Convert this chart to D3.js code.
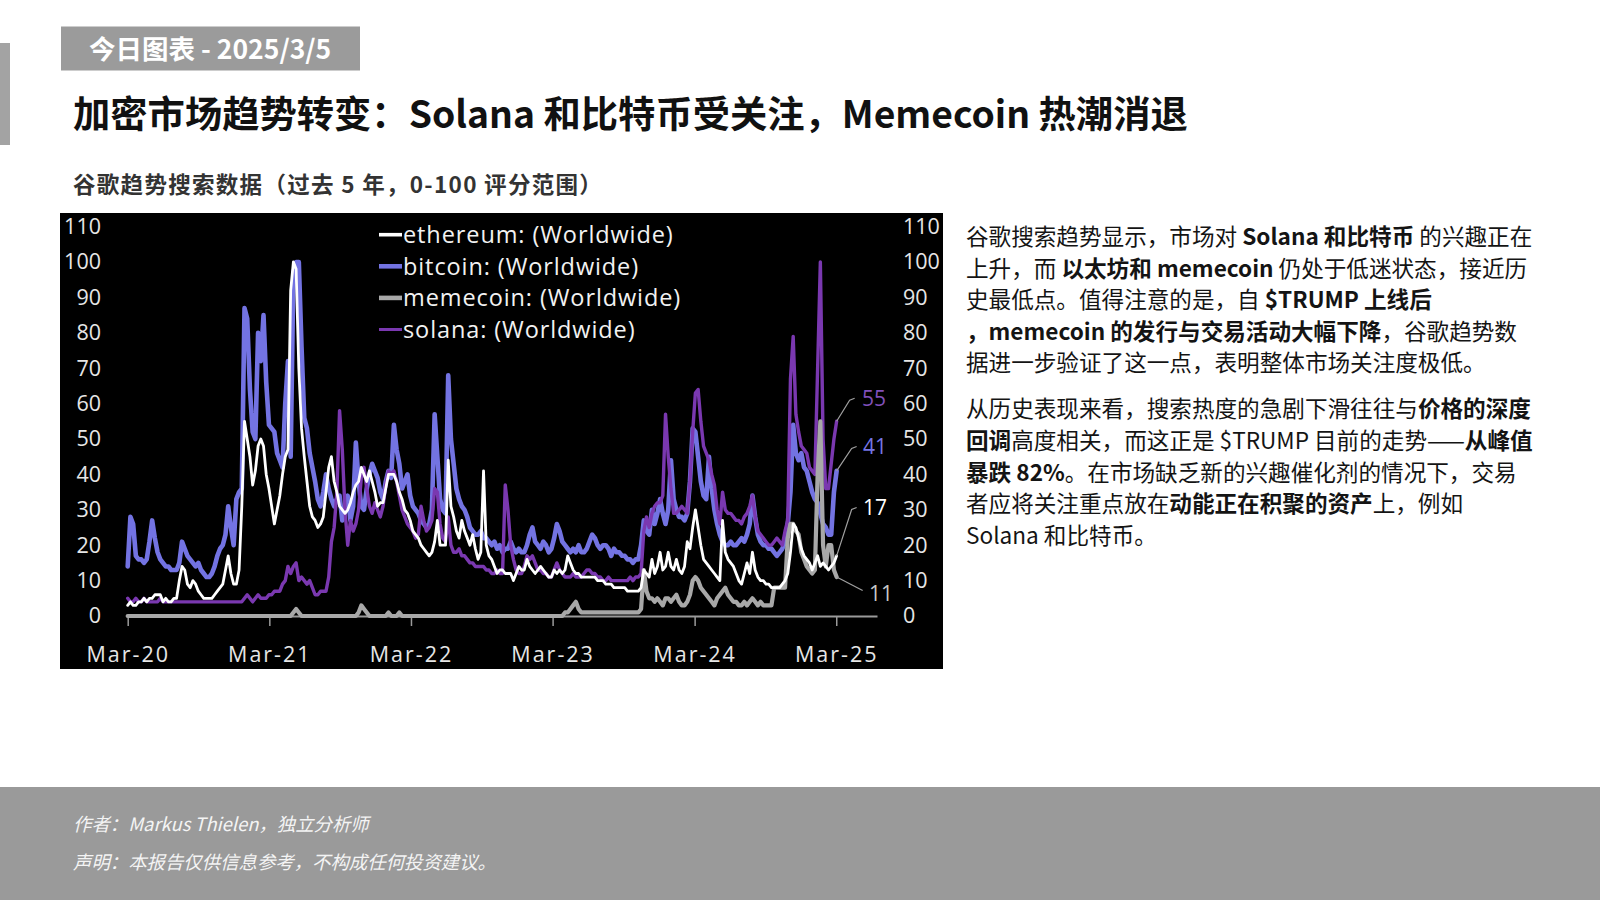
<!DOCTYPE html>
<html>
<head>
<meta charset="utf-8">
<script src="https://cdn.jsdelivr.net/npm/d3@7"></script>
<style>
  html, body { margin: 0; padding: 0; background: #ffffff; }
  svg { display: block; }
</style>
</head>
<body>
<svg id="page" width="1600" height="900"></svg>
<script>
// ---------------- DATA ----------------
const startDate = "2020-03-01";           // first weekly observation
const seriesNames = ["ethereum", "bitcoin", "memecoin", "solana"];
const legendLabels = ["ethereum: (Worldwide)", "bitcoin: (Worldwide)", "memecoin: (Worldwide)", "solana: (Worldwide)"];
const xTickDates = ["2020-03-01", "2021-03-01", "2022-03-01", "2023-03-01", "2024-03-01", "2025-03-01"];
const xTickLabels = ["Mar-20", "Mar-21", "Mar-22", "Mar-23", "Mar-24", "Mar-25"];
const yTicks = [0, 10, 20, 30, 40, 50, 60, 70, 80, 90, 100, 110];

const bitcoin = [
  14, 28, 26, 17, 16, 16, 15, 16, 21, 27,
  22, 18, 16, 15, 14, 14, 13, 13, 13, 15,
  21, 19, 17, 16, 15, 14, 15, 13, 12, 11,
  11, 12, 14, 17, 19, 20, 23, 31, 25, 20,
  33, 35, 36, 87, 84, 64, 52, 50, 80, 72,
  85, 66, 54, 53, 52, 46, 44, 42, 60, 72,
  45, 97, 100, 100, 76, 56, 53, 46, 42, 38,
  33, 31, 35, 40, 36, 33, 31, 33, 34, 27,
  30, 34, 27, 31, 49, 38, 31, 30, 36, 40,
  43, 41, 39, 35, 33, 38, 41, 39, 54, 47,
  43, 36, 38, 40, 34, 31, 30, 29, 27, 26,
  25, 26, 30, 57, 45, 33, 30, 29, 68, 50,
  43, 36, 33, 31, 30, 28, 25, 24, 23, 23,
  24, 22, 22, 21, 20, 21, 19, 20, 18, 19,
  19, 21, 19, 18, 19, 18, 18, 20, 23, 25,
  21, 20, 19, 21, 20, 18, 19, 22, 26, 24,
  21, 20, 19, 18, 19, 18, 20, 18, 18, 19,
  21, 23, 22, 20, 19, 20, 20, 19, 17, 19,
  18, 18, 17, 17, 16, 16, 15, 16, 16, 20,
  27, 24, 23, 30, 26, 29, 33, 29, 26, 30,
  44, 33, 30, 28, 28, 27, 29, 38, 53, 52,
  45, 38, 34, 33, 45, 36, 30, 26, 23, 21,
  20, 20, 21, 20, 20, 21, 22, 21, 23, 26,
  34, 28, 23, 21, 20, 20, 19, 19, 18, 17,
  18, 19, 21, 26, 35, 54, 46, 44, 46, 42,
  41, 38, 35, 33, 32, 29, 26, 25, 23, 23,
  35, 41
];

const ethereum = [
  3, 4, 3, 3, 4, 4, 5, 4, 5, 5,
  6, 6, 6, 4, 5, 4, 4, 5, 5, 10,
  14, 13, 9, 8, 10, 9, 7, 6, 5, 5,
  5, 5, 6, 7, 8, 9, 13, 17, 12, 9,
  9, 13, 31, 55, 50, 45, 37, 41, 48, 50,
  48, 40, 36, 31, 26, 30, 34, 40, 45, 47,
  92, 100, 98, 70, 53, 45, 38, 31, 28, 27,
  25, 26, 28, 35, 42, 45, 38, 35, 31, 30,
  29, 30, 32, 35, 37, 38, 42, 40, 38, 41,
  38, 35, 31, 32, 32, 36, 40, 40, 40, 38,
  35, 33, 30, 29, 27, 24, 23, 22, 20, 19,
  18, 17, 18, 21, 27, 20, 20, 20, 44, 31,
  28, 24, 22, 27, 24, 22, 20, 23, 19, 16,
  18, 41, 20, 17, 16, 14, 12, 13, 13, 12,
  12, 12, 10, 12, 14, 13, 13, 16, 14, 13,
  12, 13, 14, 13, 12, 11, 11, 13, 12, 13,
  12, 13, 17, 15, 13, 12, 12, 11, 11, 11,
  11, 11, 11, 10, 10, 10, 9, 9, 9, 8,
  8, 8, 8, 8, 7, 7, 7, 7, 7, 8,
  13, 12, 11, 16, 12, 14, 18, 13, 14, 18,
  14, 13, 16, 13, 12, 14, 21, 19, 25, 30,
  25, 20, 16, 15, 14, 13, 12, 11, 10, 27,
  18, 16, 15, 14, 12, 10, 9, 12, 15, 12,
  18, 13, 11, 10, 10, 9, 9, 8, 8, 8,
  8, 9, 10, 12, 18, 26, 25, 22, 19, 17,
  16, 15, 13, 15, 17, 14, 15, 14, 13, 14,
  15, 17
];

const solana = [
  5, 4, 4, 5, 4, 4, 5, 4, 4, 4,
  4, 4, 5, 4, 4, 4, 4, 4, 4, 4,
  4, 4, 4, 4, 4, 4, 4, 4, 4, 4,
  4, 4, 4, 4, 4, 4, 4, 4, 4, 4,
  4, 4, 4, 5, 6, 5, 4, 5, 6, 5,
  5, 5, 6, 6, 7, 7, 7, 9, 10, 14,
  12, 14, 15, 10, 11, 10, 9, 10, 8, 6,
  6, 7, 7, 7, 11, 21, 25, 35, 58, 47,
  30, 20, 27, 24, 26, 30, 39, 42, 36, 31,
  29, 32, 30, 28, 31, 37, 41, 40, 41, 38,
  34, 30, 28, 26, 25, 24, 22, 23, 31, 27,
  24, 25, 27, 36, 35, 26, 22, 21, 28, 20,
  18, 18, 19, 17, 17, 16, 15, 15, 14, 14,
  14, 14, 13, 13, 12, 12, 13, 12, 12, 37,
  30, 20, 16, 13, 12, 12, 14, 17, 16, 17,
  15, 13, 13, 12, 12, 11, 11, 13, 15, 13,
  12, 11, 11, 11, 12, 11, 11, 11, 12, 13,
  13, 12, 12, 11, 11, 10, 10, 11, 10, 10,
  10, 10, 10, 10, 10, 11, 10, 11, 11, 12,
  24, 28, 25, 29, 31, 32, 32, 34, 57, 45,
  36, 29, 29, 30, 31, 30, 29, 38, 52, 63,
  64, 55, 48, 46, 44, 40, 37, 30, 26, 35,
  30, 29, 29, 28, 27, 27, 26, 28, 29, 31,
  34, 28, 24, 23, 22, 21, 20, 20, 21, 22,
  21, 20, 24, 27, 67, 79, 57, 52, 48, 47,
  46, 42, 41, 40, 70, 100, 50, 36, 36, 43,
  50, 55
];

const memecoin = [
  0, 0, 0, 0, 0, 0, 0, 0, 0, 0,
  0, 0, 0, 0, 0, 0, 0, 0, 0, 0,
  0, 0, 0, 0, 0, 0, 0, 0, 0, 0,
  0, 0, 0, 0, 0, 0, 0, 0, 0, 0,
  0, 0, 0, 0, 0, 0, 0, 0, 0, 0,
  0, 0, 0, 0, 0, 0, 0, 0, 0, 0,
  0, 1, 2, 1, 0, 0, 0, 0, 0, 0,
  0, 0, 0, 0, 0, 0, 0, 0, 0, 0,
  0, 0, 0, 0, 0, 1, 3, 2, 1, 0,
  0, 0, 0, 0, 0, 0, 1, 0, 0, 0,
  1, 0, 0, 0, 0, 0, 0, 0, 0, 0,
  0, 0, 0, 0, 0, 0, 0, 0, 0, 0,
  0, 0, 0, 0, 0, 0, 0, 0, 0, 0,
  0, 0, 0, 0, 0, 0, 0, 0, 0, 0,
  0, 0, 0, 0, 0, 0, 0, 0, 0, 0,
  0, 0, 0, 0, 0, 0, 0, 0, 0, 0,
  0, 1, 1, 2, 3, 4, 2, 1, 1, 1,
  1, 1, 1, 1, 1, 1, 1, 1, 1, 1,
  1, 1, 1, 1, 1, 1, 1, 1, 1, 2,
  13, 7, 5, 5, 4, 5, 4, 3, 5, 5,
  4, 5, 6, 4, 3, 3, 4, 6, 10, 11,
  10, 8, 7, 6, 5, 4, 3, 5, 6, 7,
  8, 6, 5, 4, 4, 3, 3, 4, 3, 4,
  5, 4, 3, 4, 3, 3, 3, 3, 8, 8,
  8, 8, 8, 22, 26, 26, 24, 23, 18, 16,
  14, 13, 12, 13, 40, 55, 20, 14, 20, 20,
  13, 11
];

const endLabels = [55, 41, 17, 11];   // solana, bitcoin, ethereum, memecoin (latest values)

// ---------------- TEXT ----------------
const badgeText = "今日图表 - 2025/3/5";
const titleText = "加密市场趋势转变：Solana 和比特币受关注，Memecoin 热潮消退";
const subtitleText = "谷歌趋势搜索数据（过去 5 年，0-100 评分范围）";
const para1 = [
  [["谷歌搜索趋势显示，市场对 ", 0], ["Solana 和比特币", 1], [" 的兴趣正在", 0]],
  [["上升，而 ", 0], ["以太坊和 memecoin", 1], [" 仍处于低迷状态，接近历", 0]],
  [["史最低点。值得注意的是，自 ", 0], ["$TRUMP 上线后", 1]],
  [["，memecoin 的发行与交易活动大幅下降", 1], ["，谷歌趋势数", 0]],
  [["据进一步验证了这一点，表明整体市场关注度极低。", 0]]
];
const para2 = [
  [["从历史表现来看，搜索热度的急剧下滑往往与", 0], ["价格的深度", 1]],
  [["回调", 1], ["高度相关，而这正是 $TRUMP 目前的走势——", 0], ["从峰值", 1]],
  [["暴跌 82%", 1], ["。在市场缺乏新的兴趣催化剂的情况下，交易", 0]],
  [["者应将关注重点放在", 0], ["动能正在积聚的资产", 1], ["上，例如", 0]],
  [["Solana 和比特币。", 0]]
];
const footerLines = ["作者：Markus Thielen，独立分析师", "声明：本报告仅供信息参考，不构成任何投资建议。"];

// ---------------- DRAW ----------------
const CJK = "'Noto Sans CJK SC', 'Noto Sans', sans-serif";
const CHARTF = "'Open Sans', 'DejaVu Sans', sans-serif";
const svg = d3.select("#page");

// page decorations
svg.append("rect").attr("x", 0).attr("y", 43).attr("width", 10).attr("height", 102).attr("fill", "#a3a3a3");
svg.append("rect").attr("x", 61).attr("y", 26.5).attr("width", 299).attr("height", 44).attr("fill", "#9b9b9b");
svg.append("text").attr("x", 89).attr("y", 59).attr("font-family", CJK).attr("font-weight", 700)
  .attr("font-size", 26.5).attr("fill", "#ffffff").text(badgeText);
svg.append("text").attr("x", 73).attr("y", 128).attr("font-family", CJK).attr("font-weight", 700)
  .attr("font-size", 37.3).attr("fill", "#111111").text(titleText);
svg.append("text").attr("x", 73).attr("y", 192.5).attr("font-family", CJK).attr("font-weight", 700)
  .attr("font-size", 22.5).attr("letter-spacing", "1.3px").attr("fill", "#333333").text(subtitleText);

// footer
svg.append("rect").attr("x", 0).attr("y", 787).attr("width", 1600).attr("height", 113).attr("fill", "#9a9a9a");
svg.selectAll("text.footer").data(footerLines).join("text").attr("class", "footer")
  .attr("x", 73).attr("y", (d, i) => 830.5 + i * 38)
  .attr("font-family", CJK).attr("font-style", "italic").attr("font-size", 18.4)
  .attr("fill", "#f4f4f4").text(d => d);

// right-hand commentary
function richBlock(lines, y0) {
  const t = svg.append("g");
  lines.forEach((segs, i) => {
    const tx = t.append("text").attr("x", 966).attr("y", y0 + i * 31.6)
      .attr("font-family", CJK).attr("font-size", 22.6).attr("fill", "#141414");
    segs.forEach(s => tx.append("tspan").attr("font-weight", s[1] ? 700 : 400).text(s[0]));
  });
}
richBlock(para1, 245);
richBlock(para2, 417.4);

// chart panel
svg.append("rect").attr("x", 60).attr("y", 213).attr("width", 883).attr("height", 456).attr("fill", "#000000");

const parseDate = d3.timeParse("%Y-%m-%d");
const t0 = parseDate(startDate);
const dates = bitcoin.map((_, i) => d3.timeDay.offset(t0, 7 * i));

const x = d3.scaleTime().domain([t0, parseDate("2025-06-14")]).range([127.7, 877]);
const y = d3.scaleLinear().domain([0, 110]).range([616, 226.6]);

// axes
const yl = svg.append("g").attr("transform", "translate(101,0)")
  .call(d3.axisLeft(y).tickValues(yTicks).tickSize(0).tickPadding(0));
const yr = svg.append("g").attr("transform", "translate(903,0)")
  .call(d3.axisRight(y).tickValues(yTicks).tickSize(0).tickPadding(0));
[yl, yr].forEach(g => {
  g.select(".domain").remove();
  g.selectAll("text").attr("font-family", CHARTF).attr("font-size", 21.5).attr("fill", "#e6e6e6");
});

const xa = svg.append("g").attr("transform", "translate(0,616)")
  .call(d3.axisBottom(x).tickValues(xTickDates.map(parseDate)).tickSize(10).tickSizeOuter(0)
    .tickPadding(13).tickFormat((d, i) => xTickLabels[i]));
xa.select(".domain").attr("stroke", "#9a9a9a").attr("stroke-width", 2);
xa.selectAll(".tick line").attr("stroke", "#9a9a9a").attr("stroke-width", 1.5);
xa.selectAll("text").attr("font-family", CHARTF).attr("font-size", 21.5).attr("fill", "#e6e6e6")
  .attr("letter-spacing", "2px").attr("dy", "1.05em");

// lines
const series = {
  bitcoin:  { vals: bitcoin,  color: "#7373e2", width: 4.6 },
  solana:   { vals: solana,   color: "#7a38b0", width: 3.4 },
  memecoin: { vals: memecoin, color: "#a8a8a8", width: 4.2 },
  ethereum: { vals: ethereum, color: "#ffffff", width: 2.8 }
};
const line = d3.line().x(d => x(d.date)).y(d => y(d.v)).curve(d3.curveLinear);
["bitcoin", "solana", "memecoin", "ethereum"].forEach(k => {
  const s = series[k];
  const pts = s.vals.map((v, i) => ({ date: dates[i], v }));
  svg.append("path").datum(pts).attr("d", line).attr("fill", "none")
    .attr("stroke", s.color).attr("stroke-width", s.width)
    .attr("stroke-linejoin", "round").attr("stroke-linecap", "round");
});

// legend
const lg = svg.append("g");
seriesNames.forEach((n, i) => {
  const cy = 234.7 + i * 31.6;
  lg.append("line").attr("x1", 379).attr("x2", 402).attr("y1", cy).attr("y2", cy)
    .attr("stroke", series[n].color).attr("stroke-width", n === "solana" ? 3 : (n === "ethereum" ? 3.6 : 4.6));
  lg.append("text").attr("x", 403).attr("y", cy).attr("dy", "0.36em")
    .attr("font-family", CHARTF).attr("font-size", 23.5).attr("letter-spacing", "0.9px")
    .attr("fill", "#f2f2f2").text(legendLabels[i]);
});

// end labels with leader lines
const lastDate = dates[dates.length - 1];
const endInfo = [
  { key: "solana",   label: endLabels[0], color: "#8150bb", dx: [13, 18], ly: 398.3, tx: 862 },
  { key: "bitcoin",  label: endLabels[1], color: "#7676e4", dx: [15, 20], ly: 446.5, tx: 863 },
  { key: "ethereum", label: endLabels[2], color: "#ffffff", dx: [15, 20], ly: 507.5, tx: 863 },
  { key: "memecoin", label: endLabels[3], color: "#c8c8c8", dx: [26, 26], ly: 590.5, tx: 869 }
];
endInfo.forEach(e => {
  const vals = series[e.key].vals;
  const px = x(lastDate), py = y(vals[vals.length - 1]);
  const pts = e.key === "memecoin"
    ? [[px, py], [px + e.dx[0], e.ly]]
    : [[px, py], [px + e.dx[0], e.ly + 2], [px + e.dx[1], e.ly]];
  svg.append("path").attr("d", d3.line()(pts)).attr("fill", "none")
    .attr("stroke", "#a0a0a0").attr("stroke-width", 1.2);
  svg.append("text").attr("x", e.tx).attr("y", e.ly + (e.key === "memecoin" ? 3 : 0)).attr("dy", "0.35em")
    .attr("font-family", CHARTF).attr("font-size", 21).attr("fill", e.color).text(e.label);
});
</script>
</body>
</html>
